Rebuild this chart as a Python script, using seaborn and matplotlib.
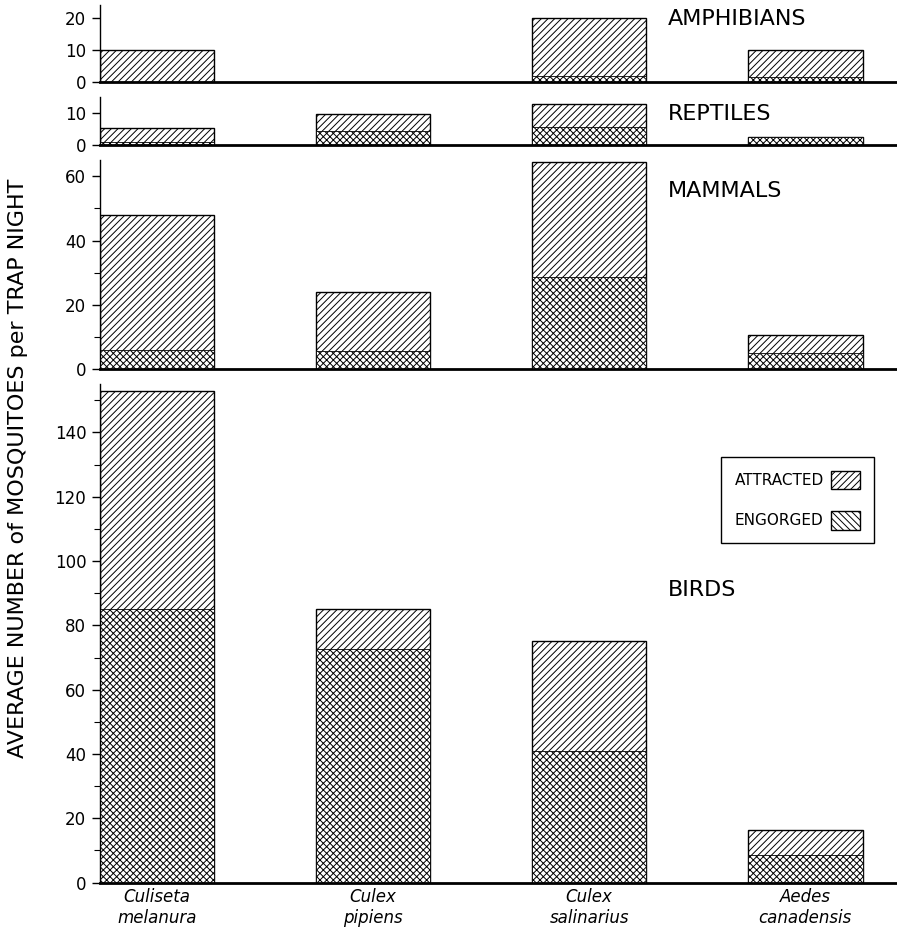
import numpy as np
import pandas as pd
import matplotlib
matplotlib.use('Agg')
import matplotlib.pyplot as plt
import seaborn as sns
from matplotlib.patches import Patch
from matplotlib.ticker import MultipleLocator

sns.set_style('ticks')
plt.rcParams.update({
    'font.family': ['DejaVu Sans'],
    'font.size': 12,
    'hatch.linewidth': 0.7,
    'axes.linewidth': 1.0,
    'axes.edgecolor': 'black',
    'text.color': 'black',
    'xtick.color': 'black',
    'ytick.color': 'black',
    'axes.labelcolor': 'black',
})

species = ['Culiseta\nmelanura', 'Culex\npipiens', 'Culex\nsalinarius', 'Aedes\ncanadensis']
hosts = ['AMPHIBIANS', 'REPTILES', 'MAMMALS', 'BIRDS']

amphibians_attracted = [10, 0, 20, 10]
amphibians_engorged = [0, 0, 1.8, 1.5]
reptiles_attracted = [5.3, 9.7, 12.8, 2.5]
reptiles_engorged = [1.0, 4.5, 5.5, 2.5]
mammals_attracted = [48, 24, 64.5, 10.5]
mammals_engorged = [6, 5.5, 28.7, 5]
birds_attracted = [153, 85, 75, 16.5]
birds_engorged = [85, 72.5, 41, 8.5]

attracted = [amphibians_attracted, reptiles_attracted, mammals_attracted, birds_attracted]
engorged = [amphibians_engorged, reptiles_engorged, mammals_engorged, birds_engorged]

y_max = [24, 15, 65, 155]
y_major = [10, 10, 20, 20]
y_minor = [10, 10, 10, 10]
label_y = [0.81, 0.65, 0.85, 0.587]

fig, axes = plt.subplots(4, 1, figsize=(8.97, 9.36), dpi=100,
                         gridspec_kw={'height_ratios': y_max})
fig.subplots_adjust(left=0.111, right=0.999, top=0.995, bottom=0.057, hspace=0.072)

for i, ax in enumerate(axes):
    df = pd.DataFrame({'species': species,
                       'attracted': attracted[i],
                       'engorged': engorged[i]})
    sns.barplot(data=df, x='species', y='attracted', color='white', saturation=1,
                edgecolor='black', linewidth=1.0, width=0.53, ax=ax)
    for p in ax.patches:
        p.set_hatch('/////')
    n = len(ax.patches)
    sns.barplot(data=df, x='species', y='engorged', color='white', saturation=1,
                edgecolor='black', linewidth=0.6, width=0.53, ax=ax)
    for p in ax.patches[n:]:
        p.set_hatch('xxxxx')

    ax.set_ylim(0, y_max[i])
    ax.set_xlim(-0.265, 3.42)
    ax.yaxis.set_major_locator(MultipleLocator(y_major[i]))
    ax.yaxis.set_minor_locator(MultipleLocator(y_minor[i]))
    ax.tick_params(axis='y', which='major', length=6, width=1, labelsize=12)
    ax.tick_params(axis='y', which='minor', length=4, width=0.8)
    sns.despine(ax=ax)
    ax.spines['bottom'].set_linewidth(2)
    ax.set_xlabel('')
    ax.set_ylabel('')
    ax.text(0.713, label_y[i], hosts[i], transform=ax.transAxes,
            fontsize=16, va='center', ha='left')
    if i < 3:
        ax.tick_params(axis='x', bottom=False, labelbottom=False)
    else:
        ax.tick_params(axis='x', length=0, labelsize=12, pad=4)
        for t in ax.get_xticklabels():
            t.set_style('italic')

handles = [Patch(facecolor='white', edgecolor='black', hatch='/////', label='ATTRACTED'),
           Patch(facecolor='white', edgecolor='black', hatch='\\\\\\\\\\', label='ENGORGED')]
axes[3].legend(handles=handles, loc='upper right', bbox_to_anchor=(0.982, 0.869),
               markerfirst=False, fancybox=False, edgecolor='black', framealpha=1,
               fontsize=11, labelspacing=1.4, handlelength=1.9, handleheight=1.5,
               borderpad=0.9, handletextpad=0.5)

fig.text(0.02, 0.5, 'AVERAGE NUMBER of MOSQUITOES per TRAP NIGHT',
         rotation=90, va='center', ha='center', fontsize=16)

fig.savefig('out.png', dpi=100, facecolor='white')
